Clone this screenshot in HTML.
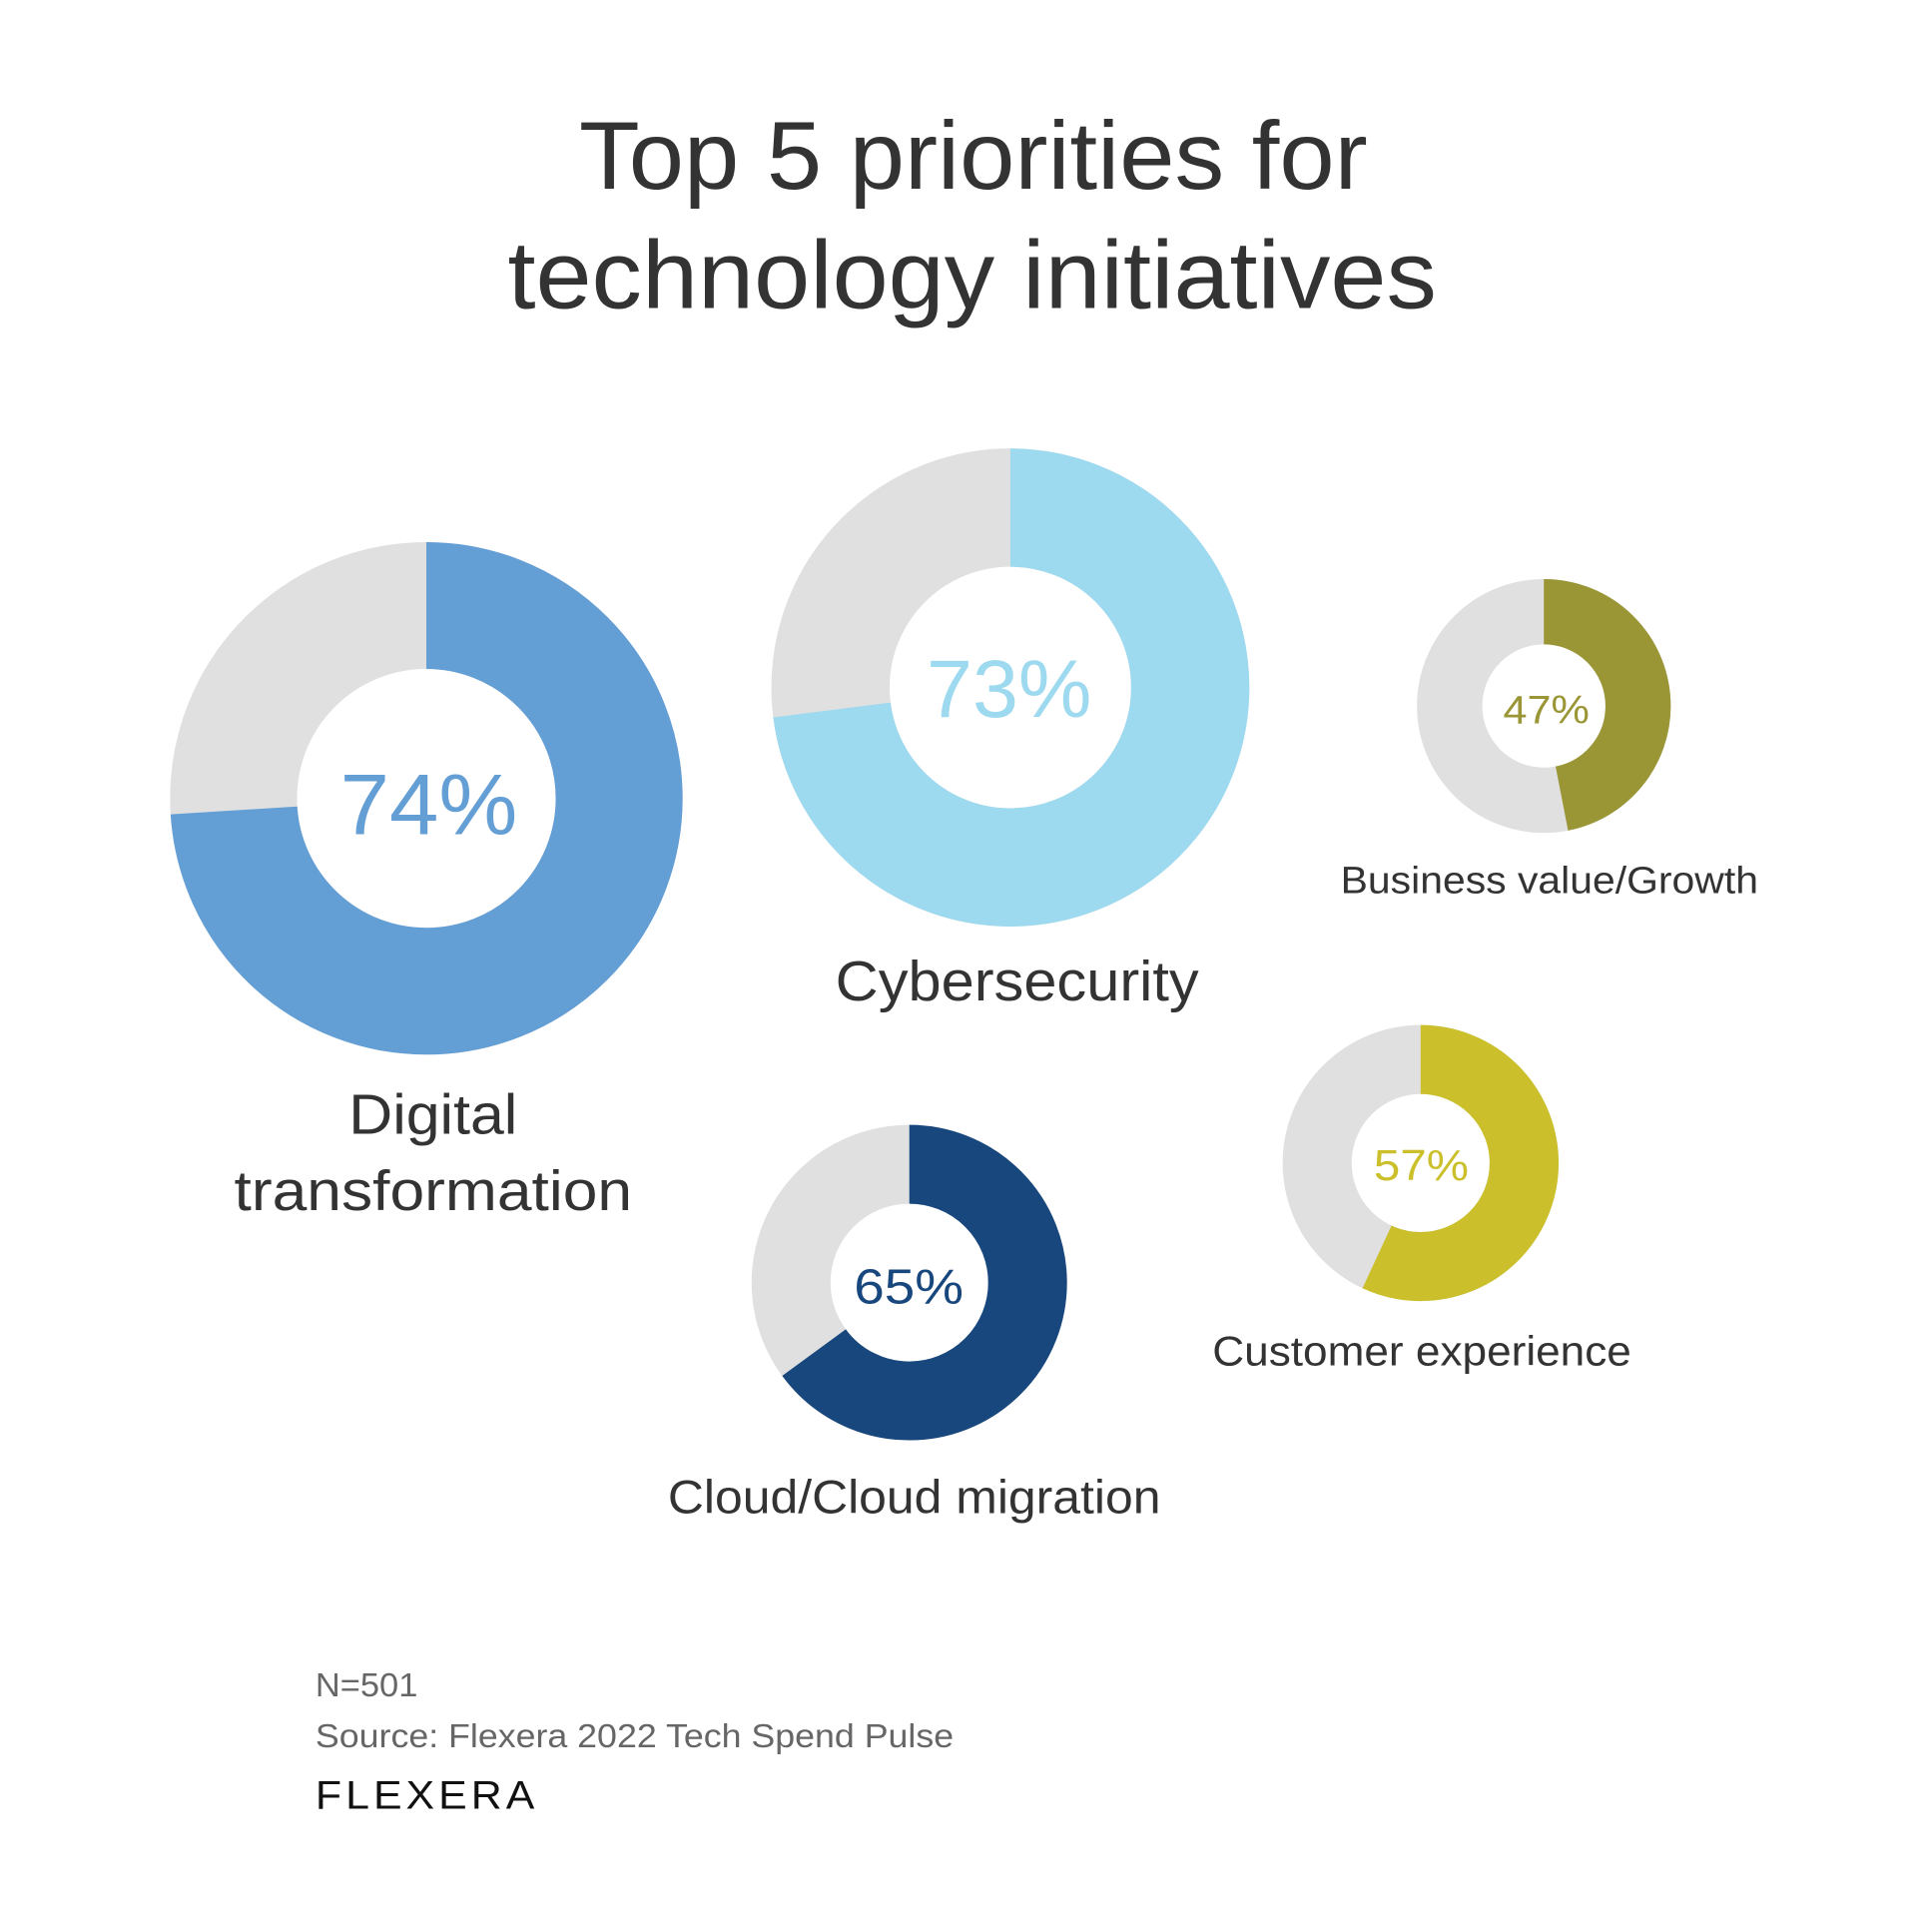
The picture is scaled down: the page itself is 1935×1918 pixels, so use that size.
<!DOCTYPE html>
<html><head><meta charset="utf-8"><style>
html,body{margin:0;padding:0;background:#fff;}
svg{display:block}
text{font-family:"Liberation Sans",sans-serif;}
</style></head><body>
<svg width="1935" height="1918" viewBox="0 0 1568 1554.3" xmlns="http://www.w3.org/2000/svg">
<rect width="1568" height="1555" fill="#fff"/>
<g fill="#333" font-size="78">
<text x="470" y="153" textLength="640" lengthAdjust="spacingAndGlyphs">Top 5 priorities for</text>
<text x="412" y="250" textLength="754" lengthAdjust="spacingAndGlyphs">technology initiatives</text>
</g>
<g fill="none">
<circle cx="346" cy="648" r="156.5" stroke="#e0e0e0" stroke-width="103"/>
<circle cx="346" cy="648" r="156.5" stroke="#639ed5" stroke-width="103" pathLength="100" stroke-dasharray="74 100" transform="rotate(-90 346 648)"/>
<circle cx="820" cy="558" r="146" stroke="#e0e0e0" stroke-width="96"/>
<circle cx="820" cy="558" r="146" stroke="#9dd9ef" stroke-width="96" pathLength="100" stroke-dasharray="73 100" transform="rotate(-90 820 558)"/>
<circle cx="1253" cy="573" r="76.5" stroke="#e0e0e0" stroke-width="53"/>
<circle cx="1253" cy="573" r="76.5" stroke="#9a9535" stroke-width="53" pathLength="100" stroke-dasharray="47 100" transform="rotate(-90 1253 573)"/>
<circle cx="1153" cy="944" r="84" stroke="#e0e0e0" stroke-width="56"/>
<circle cx="1153" cy="944" r="84" stroke="#cbc02b" stroke-width="56" pathLength="100" stroke-dasharray="57 100" transform="rotate(-90 1153 944)"/>
<circle cx="738" cy="1041" r="96" stroke="#e0e0e0" stroke-width="64"/>
<circle cx="738" cy="1041" r="96" stroke="#18477e" stroke-width="64" pathLength="100" stroke-dasharray="65 100" transform="rotate(-90 738 1041)"/>
</g>
<text x="276" y="677" font-size="70" fill="#639ed5" textLength="144" lengthAdjust="spacingAndGlyphs">74%</text>
<text x="752" y="582" font-size="66" fill="#9dd9ef" textLength="134" lengthAdjust="spacingAndGlyphs">73%</text>
<text x="1220" y="587" font-size="32" fill="#9a9535" textLength="70" lengthAdjust="spacingAndGlyphs">47%</text>
<text x="1115" y="958" font-size="35" fill="#cbc02b" textLength="77" lengthAdjust="spacingAndGlyphs">57%</text>
<text x="693" y="1058" font-size="40" fill="#18477e" textLength="89" lengthAdjust="spacingAndGlyphs">65%</text>
<g fill="#333">
<text x="283" y="920" font-size="46" textLength="137" lengthAdjust="spacingAndGlyphs">Digital</text>
<text x="190" y="982" font-size="46" textLength="323" lengthAdjust="spacingAndGlyphs">transformation</text>
<text x="678" y="812" font-size="46" textLength="295" lengthAdjust="spacingAndGlyphs">Cybersecurity</text>
<text x="1088" y="725" font-size="31" textLength="339" lengthAdjust="spacingAndGlyphs">Business value/Growth</text>
<text x="984" y="1108" font-size="34" textLength="340" lengthAdjust="spacingAndGlyphs">Customer experience</text>
<text x="542" y="1228" font-size="38" textLength="400" lengthAdjust="spacingAndGlyphs">Cloud/Cloud migration</text>
</g>
<g fill="#666" font-size="27">
<text x="256" y="1377" textLength="83" lengthAdjust="spacingAndGlyphs">N=501</text>
<text x="256" y="1418" textLength="518" lengthAdjust="spacingAndGlyphs">Source: Flexera 2022 Tech Spend Pulse</text>
</g>
<text x="256" y="1468" font-size="32" fill="#111" textLength="181" lengthAdjust="spacingAndGlyphs" letter-spacing="3">FLEXERA</text>
</svg>
</body></html>
